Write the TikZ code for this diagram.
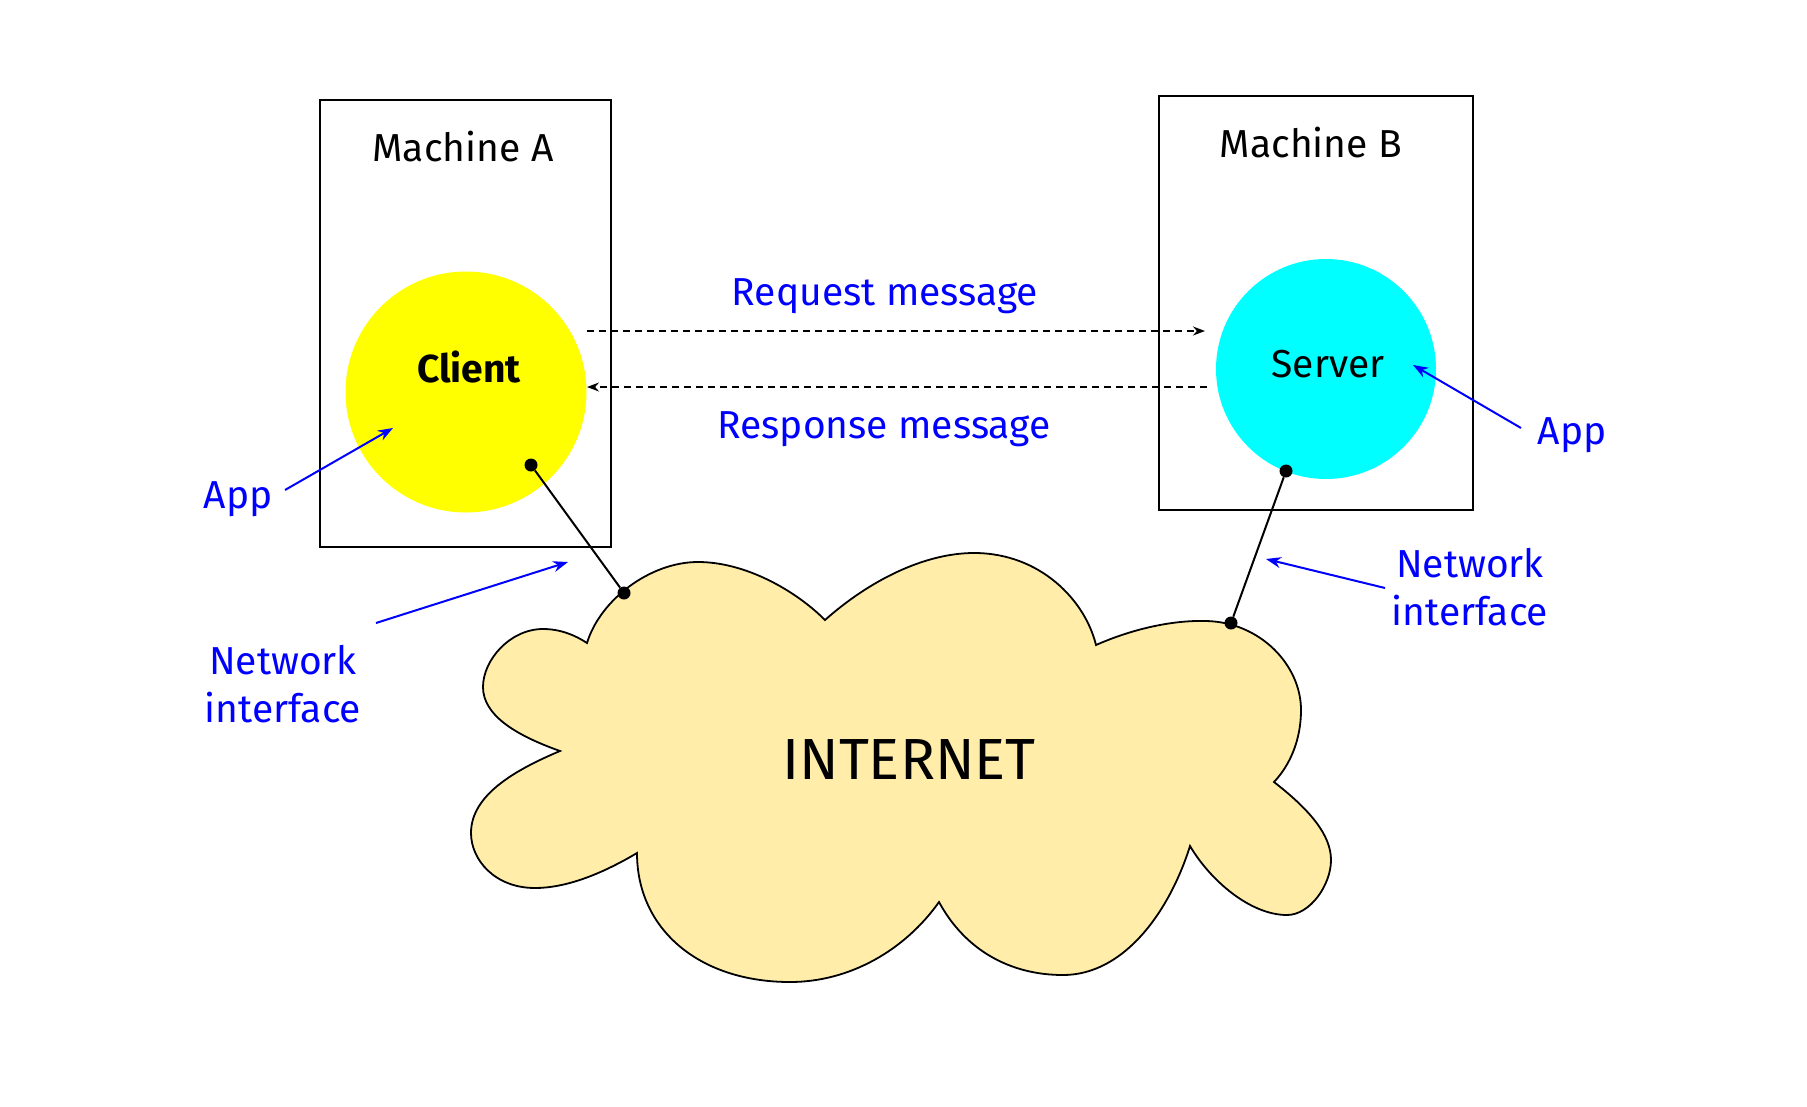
\documentclass[tikz,border=0pt]{standalone}
\usepackage{fontspec}
\setmainfont{Fira Sans}
\usetikzlibrary{arrows.meta,positioning}
\definecolor{cloudfill}{HTML}{FFEDA9}
\definecolor{clientfill}{HTML}{FFFF00}
\definecolor{serverfill}{HTML}{00FFFF}
\definecolor{notecolor}{HTML}{0000FF}

\begin{document}
\begin{tikzpicture}[
  x=1pt,y=-1pt,
  machine/.style={draw=black,line width=1.8pt,inner sep=0pt},
  appcircle/.style={circle,inner sep=0pt},
  title/.style={font=\fontsize{39}{47}\selectfont,anchor=base,inner sep=0pt},
  note/.style={text=notecolor,font=\fontsize{39}{48}\selectfont,inner sep=0pt,align=center},
  noteline/.style={-{Stealth[length=15pt,width=11pt]},draw=notecolor,line width=2pt},
  msg/.style={-{Stealth[length=12pt,width=9pt]},dash pattern=on 7pt off 5pt,line width=1.8pt},
  dot/.style={circle,fill=black,inner sep=0pt,minimum size=13pt},
  wire/.style={line width=2pt}
]
\useasboundingbox (0,0) rectangle (1807,1106);

% the two machines
\node[machine,minimum width=291pt,minimum height=447pt] (machA) at (465.5,323.5) {};
\node[machine,minimum width=314pt,minimum height=414pt] (machB) at (1316,303) {};
\node[title] (titleA) at (463,161) {Machine A};
\node[title] (titleB) at (1311,157) {Machine B};

% applications
\node[appcircle,fill=clientfill,minimum size=241pt] (client) at (466,392) {};
\node[appcircle,fill=serverfill,minimum size=220pt] (server) at (1326,369) {};
\node[title,font=\fontsize{39}{47}\selectfont\bfseries] (clientname) at (469,382) {Client};
\node[title] (servername) at (1328,377) {Server};

% the cloud
\draw[line width=1.8pt,fill=cloudfill]
  (587,643) .. controls (600,600) and (650,562) .. (698,562)
  .. controls (745,562) and (795,590) .. (825,620)
  .. controls (870,580) and (925,553) .. (974,553)
  .. controls (1040,553) and (1085,600) .. (1096,645)
  .. controls (1130,630) and (1170,620) .. (1206,621)
  .. controls (1260,622) and (1301,665) .. (1301,710)
  .. controls (1301,740) and (1290,765) .. (1274,782)
  .. controls (1310,810) and (1331,835) .. (1331,860)
  .. controls (1331,885) and (1310,915) .. (1287,915)
  .. controls (1250,915) and (1210,880) .. (1190,846)
  .. controls (1170,910) and (1125,975) .. (1063,975)
  .. controls (1010,975) and (965,950) .. (939,902)
  .. controls (905,950) and (850,982) .. (790,982)
  .. controls (700,982) and (637,930) .. (637,853)
  .. controls (600,875) and (565,888) .. (535,888)
  .. controls (495,888) and (471,860) .. (471,833)
  .. controls (471,795) and (515,770) .. (560,751)
  .. controls (515,735) and (483,715) .. (483,687)
  .. controls (483,660) and (510,629) .. (543,629)
  .. controls (560,629) and (575,635) .. cycle;
\node[title,font=\fontsize{58}{70}\selectfont] (internet) at (909,779) {INTERNET};

% network interfaces
\node[dot] (ifA) at (531,465) {};
\node[dot] (netA) at (624,593) {};
\node[dot] (ifB) at (1286,471) {};
\node[dot] (netB) at (1231,623) {};
\draw[wire] (ifA) -- (netA);
\draw[wire] (ifB) -- (netB);

% messages
\coordinate (reqstart) at (587,331);
\coordinate (reqend) at (1205,331);
\coordinate (respstart) at (1207,387);
\coordinate (respend) at (587,387);
\draw[msg] (reqstart) -- (reqend);
\draw[msg] (respstart) -- (respend);
\node[note,anchor=base] (reqlabel) at (885,305) {Request message};
\node[note,anchor=base] (resplabel) at (884,438) {Response message};

% notes
\node[note,anchor=base] (appA) at (238,508) {App};
\node[note,anchor=base] (appB) at (1572,444) {App};
\node[note] (nicA) at (283,684) {Network\\interface};
\node[note] (nicB) at (1470,587) {Network\\interface};
\coordinate (appAtail) at (285,490);
\coordinate (appAtip) at (393,428);
\coordinate (appBtail) at (1521,428);
\coordinate (appBtip) at (1413,365);
\coordinate (nicAtail) at (376,623);
\coordinate (nicAtip) at (568,562);
\coordinate (nicBtail) at (1385,588);
\coordinate (nicBtip) at (1266,559);
\draw[noteline] (appAtail) -- (appAtip);
\draw[noteline] (appBtail) -- (appBtip);
\draw[noteline] (nicAtail) -- (nicAtip);
\draw[noteline] (nicBtail) -- (nicBtip);
\end{tikzpicture}
\end{document}
